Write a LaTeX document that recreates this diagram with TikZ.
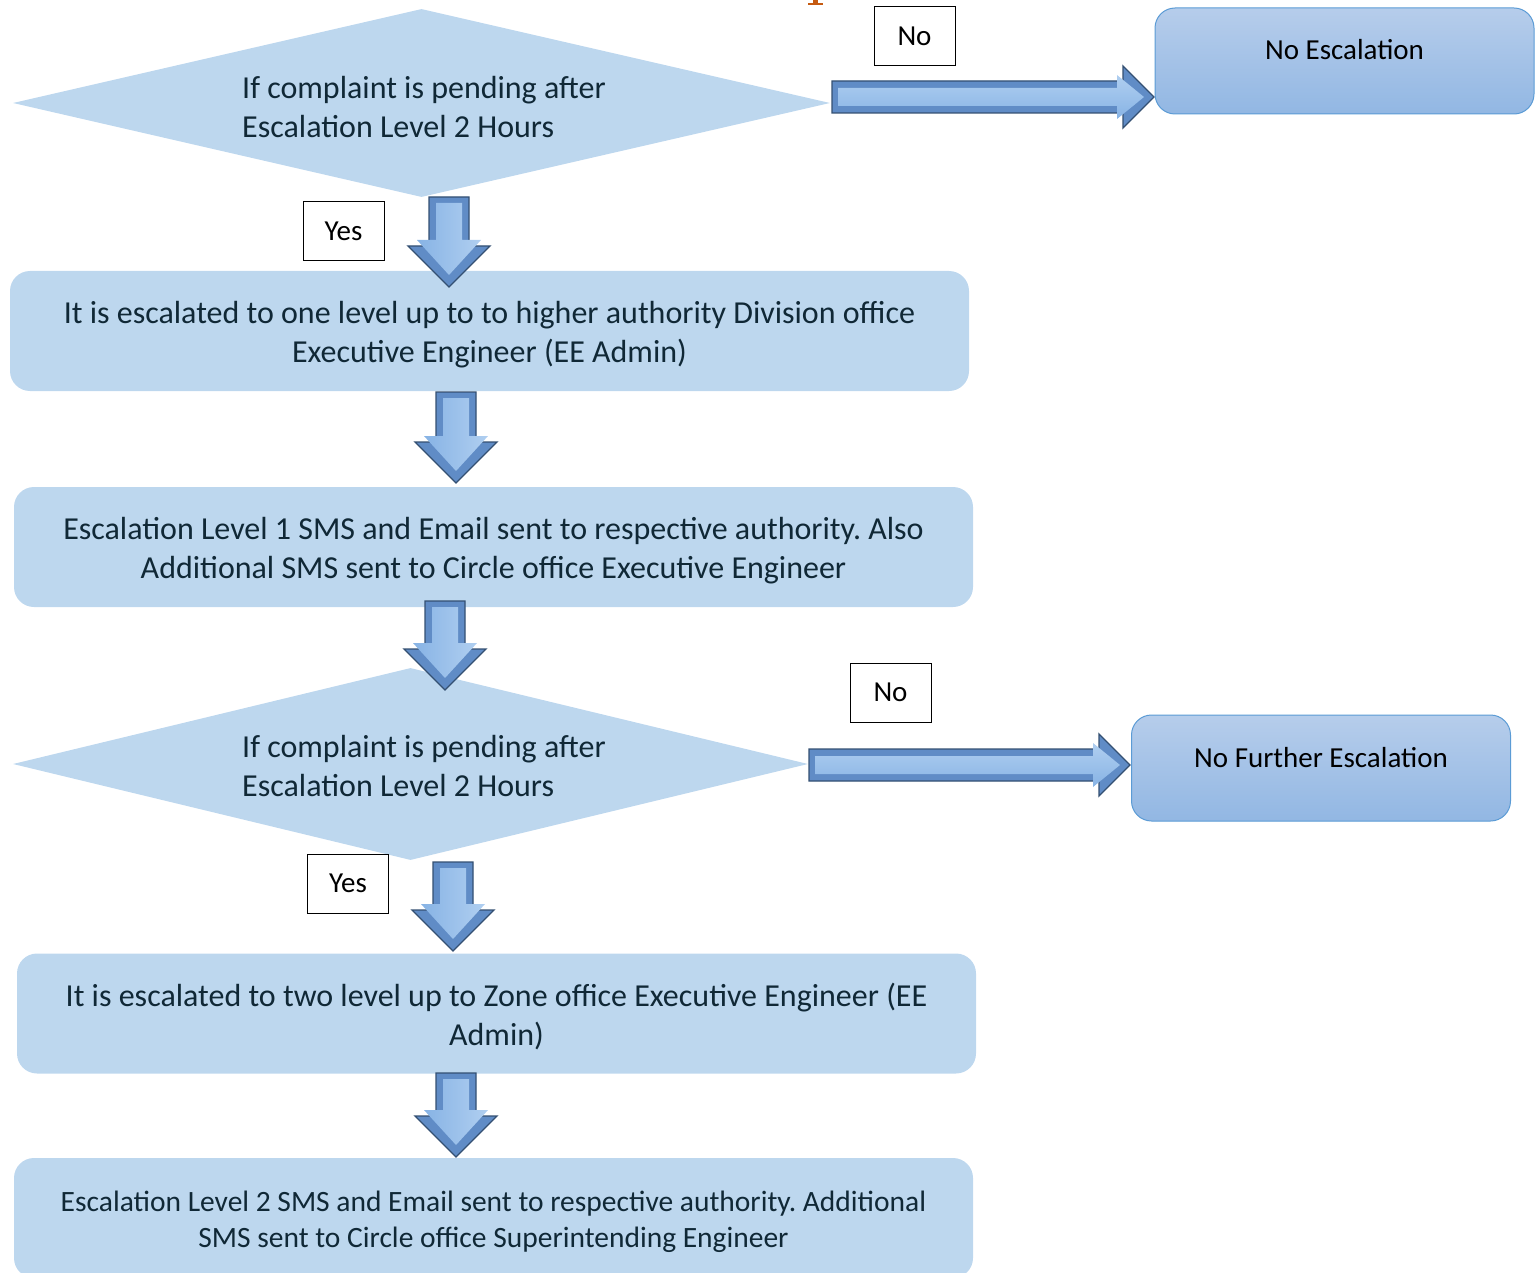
\documentclass[tikz,border=0pt]{standalone}
\usepackage{fontspec}
\setmainfont{Carlito}
\usetikzlibrary{shapes.geometric,calc}
\definecolor{boxfill}{RGB}{189,215,238}
\definecolor{txtcol}{RGB}{16,40,54}
\definecolor{resTop}{RGB}{182,205,235}
\definecolor{resBot}{RGB}{146,183,227}
\definecolor{resLine}{RGB}{91,155,213}
\definecolor{arrOut}{RGB}{96,140,198}
\definecolor{arrLine}{RGB}{52,80,114}
\definecolor{arrIn}{RGB}{142,186,234}
\definecolor{orangeglyph}{RGB}{197,90,17}
\tikzset{
  procbox/.style={fill=boxfill, rounded corners=20pt, minimum width=959pt, minimum height=120pt,
    inner sep=0pt, align=center, text=txtcol, font=\fontsize{32}{39}\selectfont, text height=68pt},
  decbox/.style={shape=diamond, fill=boxfill, inner sep=0pt, aspect=4.3},
  dectext/.style={align=left, text=txtcol, font=\fontsize{32}{39}\selectfont},
  resbox/.style={draw=resLine, line width=1pt, top color=resTop, bottom color=resBot,
    rounded corners=20pt, minimum width=379pt, minimum height=106pt, inner sep=0pt},
  restext/.style={text=black, font=\fontsize{29}{35}\selectfont},
  lblbox/.style={draw=black, line width=1pt, fill=white, minimum width=81pt, minimum height=59pt,
    inner sep=0pt, font=\fontsize{29}{35}\selectfont},
  arrowouter/.style={fill=arrOut, draw=arrLine, line width=1.3pt, line join=miter},
  arrowinner/.style={left color=arrIn!85!arrOut, right color=arrIn!70!white},
  arrowinnerh/.style={top color=arrIn!70!white, bottom color=arrIn!85!arrOut},
}
\newcommand\DArrow[2]{%
  \path[arrowouter] let \p1=(#1),\p2=(#2) in
    (\x1-20pt,\y1) -- (\x1+20pt,\y1) -- (\x1+20pt,\y2+41pt) -- (\x1+41pt,\y2+41pt) --
    (\x1,\y2) -- (\x1-41pt,\y2+41pt) -- (\x1-20pt,\y2+41pt) -- cycle;
  \path[arrowinner] let \p1=(#1),\p2=(#2) in
    (\x1-13pt,\y1-6pt) -- (\x1+13pt,\y1-6pt) -- (\x1+13pt,\y2+47pt) -- (\x1+32pt,\y2+47pt) --
    (\x1,\y2+12pt) -- (\x1-32pt,\y2+47pt) -- (\x1-13pt,\y2+47pt) -- cycle;
}
\newcommand\RArrow[2]{%
  \path[arrowouter] let \p1=(#1),\p2=(#2) in
    (\x1,\y1+16pt) -- (\x2-31pt,\y1+16pt) -- (\x2-31pt,\y1+31pt) -- (\x2,\y1) --
    (\x2-31pt,\y1-31pt) -- (\x2-31pt,\y1-16pt) -- (\x1,\y1-16pt) -- cycle;
  \path[arrowinnerh] let \p1=(#1),\p2=(#2) in
    (\x1+6pt,\y1+9pt) -- (\x2-37pt,\y1+9pt) -- (\x2-37pt,\y1+22pt) -- (\x2-10pt,\y1) --
    (\x2-37pt,\y1-22pt) -- (\x2-37pt,\y1-9pt) -- (\x1+6pt,\y1-9pt) -- cycle;
}
\begin{document}
\frenchspacing
\begin{tikzpicture}[x=1pt,y=-1pt]
\useasboundingbox (0,0) rectangle (1539,1273);
% cut-off orange glyph fragment at top
\fill[orangeglyph] (813,0) rectangle (818,4);
\fill[orangeglyph] (808,3) rectangle (823,5);

% decision 1
\node[decbox, minimum width=817pt, minimum height=188pt] (d1) at (421.5,103) {};
\node[dectext] (d1t) at (424,107) {If complaint is pending after\\Escalation Level 2 Hours};
\node[lblbox] (no1) at (914.5,36.5) {No};
\node[resbox] (r1) at (1344.5,61) {};
\node[restext] (r1t) at (1344.5,50) {No Escalation};
\node[lblbox] (yes1) at (343.5,231) {Yes};

% process boxes
\node[procbox] (b2) at (489.5,331) {It is escalated to one level up to to higher authority Division office\\Executive Engineer (EE Admin)};
\node[procbox] (b3) at (493.5,547) {Escalation Level 1 SMS and Email sent to respective authority. Also\\Additional SMS sent to Circle office Executive Engineer};

% decision 2
\node[decbox, minimum width=795pt, minimum height=192pt] (d2) at (410.5,764) {};
\node[dectext] (d2t) at (424,766) {If complaint is pending after\\Escalation Level 2 Hours};
\node[lblbox] (no2) at (890.5,692.5) {No};
\node[resbox] (r2) at (1321,768) {};
\node[restext] (r2t) at (1321,758) {No Further Escalation};
\node[lblbox] (yes2) at (348,883.5) {Yes};

\node[procbox] (b4) at (496.5,1013.5) {It is escalated to two level up to Zone office Executive Engineer (EE\\Admin)};
\node[procbox, font=\fontsize{29.5}{36}\selectfont, text height=65pt] (b5) at (493.5,1218) {Escalation Level 2 SMS and Email sent to respective authority. Additional\\SMS sent to Circle office Superintending Engineer};

% arrow end points
\coordinate (a1s) at (449,197);  \coordinate (a1t) at (449,287);
\coordinate (a2s) at (456,392);  \coordinate (a2t) at (456,483);
\coordinate (a3s) at (445,601);  \coordinate (a3t) at (445,690);
\coordinate (a4s) at (453,862);  \coordinate (a4t) at (453,951);
\coordinate (a5s) at (456,1073); \coordinate (a5t) at (456,1157);
\coordinate (h1s) at (832,97);   \coordinate (h1t) at (1154,97);
\coordinate (h2s) at (809,765);  \coordinate (h2t) at (1130,765);

\DArrow{a1s}{a1t}
\DArrow{a2s}{a2t}
\DArrow{a3s}{a3t}
\DArrow{a4s}{a4t}
\DArrow{a5s}{a5t}
\RArrow{h1s}{h1t}
\RArrow{h2s}{h2t}
\end{tikzpicture}
\end{document}
